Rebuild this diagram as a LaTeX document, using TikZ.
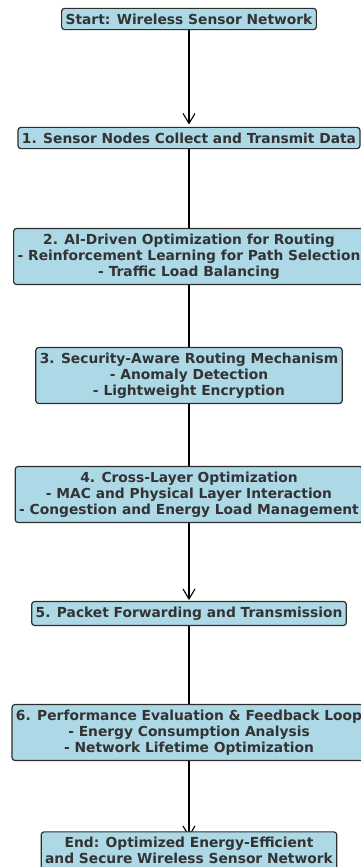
\documentclass[tikz,border=0pt]{standalone}
\usepackage{fontspec}
\setmainfont{DejaVu Sans}
\usetikzlibrary{arrows.meta,backgrounds}
\definecolor{boxfill}{HTML}{ADD8E6}
\definecolor{boxline}{HTML}{2E2E2E}
\definecolor{boxtext}{HTML}{333333}
\begin{document}
\begin{tikzpicture}[x=1pt, y=-1pt, line join=round, line cap=round, >={Straight Barb[length=10pt,width=12pt]},
	stepbox/.style={draw=boxline, fill=boxfill, line width=1.2pt, rounded corners=3pt, align=center,
		inner xsep=4pt, inner ysep=5.3pt, text=boxtext,
		font=\fontsize{13.8}{16}\selectfont\bfseries},
	flow/.style={->, line width=1.1pt, shorten >=13.5pt}]
	\useasboundingbox (0,0) rectangle (361,867);
	\node[stepbox] (start) at (189,19) {Start: Wireless Sensor Network};
	\node[stepbox] (s1) at (189,138) {1. Sensor Nodes Collect and Transmit Data};
	\node[stepbox] (s2) at (189,256.5) {2. AI-Driven Optimization for Routing\\- Reinforcement Learning for Path Selection\\- Traffic Load Balancing};
	\node[stepbox] (s3) at (189,375.5) {3. Security-Aware Routing Mechanism\\- Anomaly Detection\\- Lightweight Encryption};
	\node[stepbox] (s4) at (189,494.5) {4. Cross-Layer Optimization\\- MAC and Physical Layer Interaction\\- Congestion and Energy Load Management};
	\node[stepbox] (s5) at (189,613.5) {5. Packet Forwarding and Transmission};
	\node[stepbox] (s6) at (189,732.5) {6. Performance Evaluation \& Feedback Loop\\- Energy Consumption Analysis\\- Network Lifetime Optimization};
	\node[stepbox] (end) at (189,850.5) {End: Optimized Energy-Efficient\\and Secure Wireless Sensor Network};

	% connectors run under the boxes
	\begin{scope}[on background layer]
		\foreach \a/\b in {start/s1,s1/s2,s2/s3,s3/s4,s4/s5,s5/s6,s6/end}
			\draw[flow] (\a.center) -- (\b.center);
	\end{scope}
\end{tikzpicture}
\end{document}
